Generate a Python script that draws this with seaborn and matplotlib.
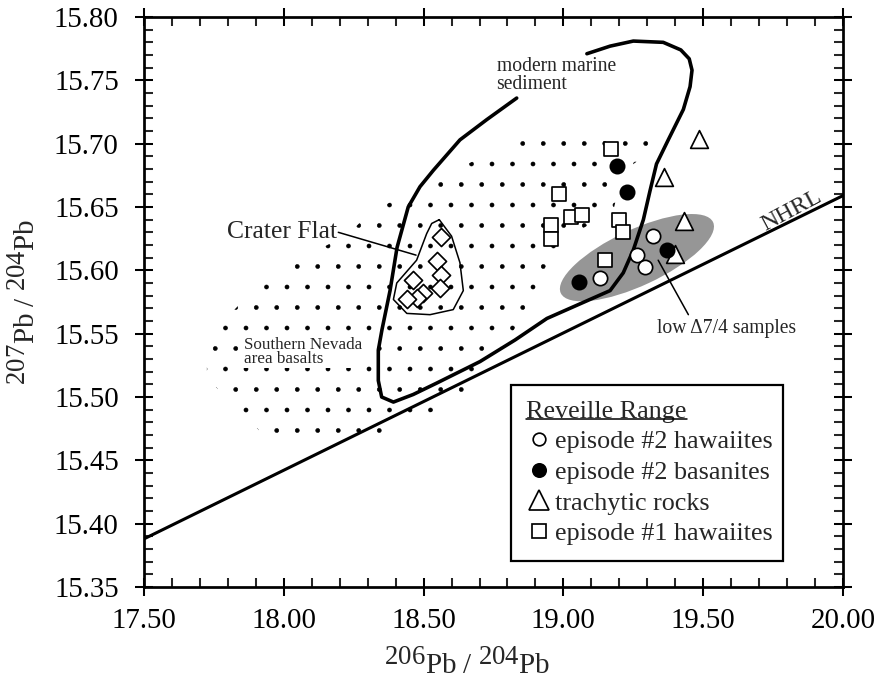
import numpy as np
import pandas as pd
import matplotlib
matplotlib.use("Agg")
import matplotlib.pyplot as plt
import matplotlib._mathtext as _mt
import seaborn as sns
from matplotlib.patches import Polygon, Ellipse
from matplotlib.lines import Line2D
from matplotlib.transforms import ScaledTranslation, IdentityTransform
from matplotlib.ticker import MultipleLocator, FormatStrFormatter

# ---------------- data ----------------
hawaiite2_x = [19.322, 19.262, 19.293, 19.130]
hawaiite2_y = [15.627, 15.612, 15.603, 15.594]
basanite2_x = [19.190, 19.229, 19.372, 19.057]
basanite2_y = [15.682, 15.662, 15.616, 15.591]
trachyte_x = [19.484, 19.361, 19.433, 19.398]
trachyte_y = [15.704, 15.674, 15.639, 15.613]
hawaiite1_x = [19.169, 18.985, 19.026, 19.068, 18.954, 18.954, 19.199, 19.212, 19.150]
hawaiite1_y = [15.696, 15.660, 15.642, 15.644, 15.636, 15.625, 15.640, 15.630, 15.608]
crater_x = [18.561, 18.547, 18.562, 18.463, 18.559, 18.497, 18.478, 18.442]
crater_y = [15.626, 15.607, 15.596, 15.592, 15.586, 15.582, 15.578, 15.577]

# NHRL reference line end points
nhrl_x = [17.50, 20.00]
nhrl_y = [15.388, 15.659]

# modern marine sediment field outline (open at the label)
sediment_x = [18.833, 18.726, 18.630, 18.535, 18.487, 18.445, 18.405, 18.380, 18.351,
              18.338, 18.338, 18.350, 18.392, 18.463, 18.547, 18.702, 18.827, 18.941,
              19.095, 19.167, 19.214, 19.250, 19.286, 19.310, 19.333, 19.375, 19.429,
              19.453, 19.460, 19.450, 19.420, 19.357, 19.250, 19.167, 19.084]
sediment_y = [15.736, 15.719, 15.703, 15.679, 15.666, 15.650, 15.618, 15.584, 15.553,
              15.537, 15.513, 15.500, 15.496, 15.502, 15.511, 15.528, 15.545, 15.562,
              15.577, 15.584, 15.598, 15.616, 15.640, 15.663, 15.684, 15.703, 15.727,
              15.745, 15.758, 15.767, 15.774, 15.780, 15.781, 15.777, 15.771]

# Crater Flat field outline (closed)
craterfield_x = [18.556, 18.600, 18.630, 18.642, 18.606, 18.523, 18.440, 18.392,
                 18.404, 18.475, 18.511, 18.529, 18.556]
craterfield_y = [15.640, 15.627, 15.606, 15.584, 15.569, 15.565, 15.566, 15.577,
                 15.590, 15.608, 15.629, 15.637, 15.640]

# Southern Nevada area basalts (stippled field boundary)
nevada_x = [18.888, 18.745, 18.598, 18.451, 18.305, 18.233, 18.087, 17.944, 17.872,
            17.797, 17.725, 17.725, 17.797, 17.872, 17.944, 18.301, 18.451, 18.670,
            18.737, 18.809, 18.888, 18.959, 19.034, 19.177, 19.213, 19.320, 19.320]
nevada_y = [15.710, 15.693, 15.678, 15.662, 15.645, 15.629, 15.612, 15.596, 15.580,
            15.563, 15.547, 15.515, 15.499, 15.483, 15.466, 15.466, 15.482, 15.499,
            15.532, 15.547, 15.580, 15.613, 15.629, 15.646, 15.678, 15.695, 15.710]

# low delta 7/4 field (ellipse centre in data units)
low74_center = (19.263, 15.610)

# leader lines
crater_leader_x = [18.195, 18.473]
crater_leader_y = [15.630, 15.612]
low74_leader_x = [19.447, 19.339]
low74_leader_y = [15.565, 15.608]

xticks = [17.50, 18.00, 18.50, 19.00, 19.50, 20.00]
yticks = [15.35, 15.40, 15.45, 15.50, 15.55, 15.60, 15.65, 15.70, 15.75, 15.80]

# ---------------- style ----------------
DPI = 123
sns.set_style("ticks")
plt.rcParams["font.family"] = ["Liberation Serif", "DejaVu Serif"]
plt.rcParams["mathtext.fontset"] = "custom"
plt.rcParams["mathtext.rm"] = "Liberation Serif"
plt.rcParams["mathtext.it"] = "Liberation Serif:italic"
plt.rcParams["hatch.linewidth"] = 0.3
plt.rcParams["hatch.color"] = "black"
_mt.SHRINK_FACTOR = 0.92  # isotope numbers nearly full size, as in the original

fig = plt.figure(figsize=(877 / DPI, 685 / DPI), dpi=DPI)
ax = fig.add_axes([144 / 877, 1 - 587 / 685, 699 / 877, 570 / 685])

# stippled field
field = Polygon(np.column_stack([nevada_x, nevada_y]), closed=True, facecolor="none",
                edgecolor="black", linewidth=0, hatch=".", zorder=1)
ax.add_patch(field)

# grey low-delta field: sized in inches around a data-space centre
ell = Ellipse((0, 0), width=168 / DPI, height=56 / DPI, angle=25,
              facecolor="#969696", edgecolor="none", zorder=2,
              transform=fig.dpi_scale_trans + ScaledTranslation(low74_center[0], low74_center[1], ax.transData))
ax.add_patch(ell)

# lines
sns.lineplot(x=nhrl_x, y=nhrl_y, sort=False, estimator=None, color="black", lw=1.8, ax=ax, zorder=3)
sns.lineplot(x=sediment_x, y=sediment_y, sort=False, estimator=None, color="black", lw=2.1, ax=ax, zorder=3)
sns.lineplot(x=craterfield_x, y=craterfield_y, sort=False, estimator=None, color="black", lw=0.9, ax=ax, zorder=3)
sns.lineplot(x=crater_leader_x, y=crater_leader_y, sort=False, estimator=None, color="black", lw=0.9, ax=ax, zorder=3)
sns.lineplot(x=low74_leader_x, y=low74_leader_y, sort=False, estimator=None, color="black", lw=0.9, ax=ax, zorder=3)

# points
groups = [
    (crater_x, crater_y, "D", 56, "white"),
    (hawaiite1_x, hawaiite1_y, "s", 64, "white"),
    (trachyte_x, trachyte_y, "^", 108, "white"),
    (basanite2_x, basanite2_y, "o", 70, "black"),
    (hawaiite2_x, hawaiite2_y, "o", 70, "white"),
]
for gx, gy, mk, sz, fc in groups:
    sns.scatterplot(x=gx, y=gy, marker=mk, s=sz, facecolor=fc, edgecolor="black",
                    linewidth=1.0, ax=ax, zorder=4, legend=False)

# annotations
ax.text(18.19, 15.630, "Crater Flat", ha="right", va="center", fontsize=15, zorder=5)
ax.text(18.761, 15.754, "modern marine\nsediment", ha="left", va="center", fontsize=11.5,
        linespacing=0.95, zorder=5)
ax.text(17.858, 15.5355, "Southern Nevada\narea basalts", ha="left", va="center", fontsize=10,
        linespacing=0.9, zorder=5,
        bbox=dict(facecolor="white", edgecolor="none", pad=0.5))
ax.text(19.583, 15.554, "low \u03947/4 samples", ha="center", va="center", fontsize=11.5, zorder=5)
ax.text(19.817, 15.647, "NHRL", ha="center", va="center", fontsize=14, rotation=28, zorder=5)

# axes
ax.set_xlim(17.5, 20.0)
ax.set_ylim(15.35, 15.80)
ax.set_xticks(xticks)
ax.set_yticks(yticks)
ax.xaxis.set_major_formatter(FormatStrFormatter("%.2f"))
ax.yaxis.set_major_formatter(FormatStrFormatter("%.2f"))
ax.xaxis.set_minor_locator(MultipleLocator(0.1))
ax.yaxis.set_minor_locator(MultipleLocator(0.01))
ax.tick_params(which="major", direction="inout", length=10.5, width=1.2, labelsize=16.9,
               top=True, right=True, color="black", labelcolor="black")
ax.tick_params(axis="y", which="major", pad=9.5)
ax.tick_params(axis="x", which="major", pad=7)
ax.tick_params(which="minor", direction="in", length=5.0, width=1.2, top=True, right=True)
for sp in ax.spines.values():
    sp.set_linewidth(1.6)
    sp.set_color("black")
    sp.set_visible(True)

ax.set_xlabel(r"$^{206}\mathrm{Pb}\ /\ ^{204}\mathrm{Pb}$", fontsize=17)
ax.set_ylabel(r"$^{207}\mathrm{Pb}\ /\ ^{204}\mathrm{Pb}$", fontsize=17)
ax.xaxis.set_label_coords(0.463, -0.108)
ax.yaxis.set_label_coords(-0.146, 0.50)

# legend
FS = 15.3
handles = [
    Line2D([], [], ls="none", marker="o", ms=7.4, mfc="white", mec="black", mew=1.0),
    Line2D([], [], ls="none", marker="o", ms=7.8, mfc="black", mec="black", mew=1.0),
    Line2D([], [], ls="none", marker="^", ms=12, mfc="white", mec="black", mew=1.0),
    Line2D([], [], ls="none", marker="s", ms=8.0, mfc="white", mec="black", mew=1.0),
]
labels = ["episode #2 hawaiites", "episode #2 basanites", "trachytic rocks", "episode #1 hawaiites"]
leg = ax.legend(handles, labels, title="Reveille Range", loc="upper left",
                bbox_to_anchor=(0.5246, 0.0504, 0.3891, 0.3040), mode="expand",
                borderaxespad=0, fontsize=FS, title_fontsize=FS, alignment="left",
                frameon=True, fancybox=False, shadow=False, edgecolor="black", framealpha=1,
                borderpad=0.6, handlelength=0.95, handletextpad=0.15, labelspacing=0.28)
leg.get_frame().set_linewidth(1.3)
leg.set_zorder(10)

fig.canvas.draw()
tb = leg.get_title().get_window_extent(fig.canvas.get_renderer())
yline = tb.y0 + 0.18 * tb.height
fig.add_artist(Line2D([tb.x0, tb.x1], [yline, yline], transform=IdentityTransform(),
                      color="black", lw=0.9, zorder=11))

fig.savefig("out.png", dpi=DPI, facecolor="white")
